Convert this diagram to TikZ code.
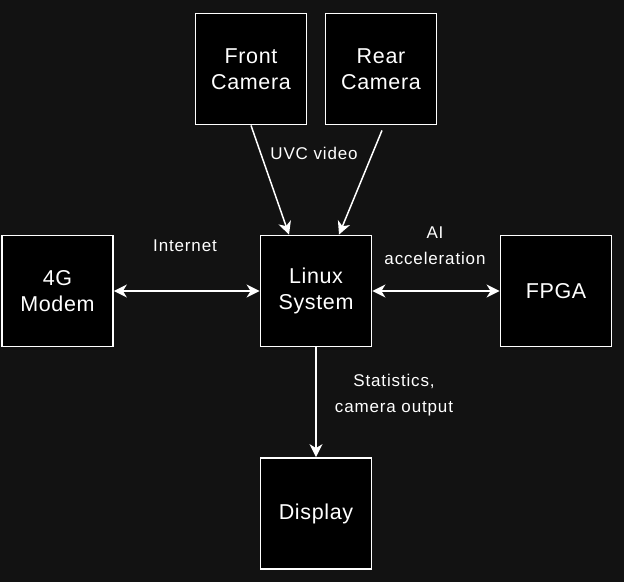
\documentclass[tikz,border=0pt]{standalone}
\usepackage{fontspec}
\setmainfont{Liberation Sans}
\newfontfamily\boxfont[LetterSpace=3]{Liberation Sans}
\newfontfamily\labfont[LetterSpace=5]{Liberation Sans}
\usetikzlibrary{arrows.meta,calc}
\definecolor{bgc}{HTML}{121212}
\tikzset{
  blk/.style={draw=white, line width=1.8pt, fill=black, minimum width=111pt, minimum height=111pt,
    text=white, font=\boxfont\fontsize{21.5}{26}\selectfont, align=center, inner sep=0pt},
  conn/.style={draw=white, line width=1.5pt, -{Stealth[length=13pt,width=13pt,inset=4pt]}},
  biconn/.style={draw=white, line width=1.5pt, {Stealth[length=13pt,width=13pt,inset=4pt]}-{Stealth[length=13pt,width=13pt,inset=4pt]}},
  lab/.style={text=white, font=\labfont\fontsize{17}{26}\selectfont, align=center, inner sep=0pt}
}
\begin{document}
\begin{tikzpicture}[x=1pt,y=-1pt]
\fill[bgc] (0,0) rectangle (624,582);
\useasboundingbox (0,0) rectangle (624,582);
\node[blk] (front) at (251,69) {Front\\Camera};
\node[blk] (rear) at (381,69) {Rear\\Camera};
\node[blk] (modem) at (57.5,291) {4G\\Modem};
\node[blk] (linux) at (316,291) {Linux\\System};
\node[blk] (fpga) at (556,291) {FPGA};
\node[blk] (display) at (316,513.5) {Display};
\coordinate (rs) at ($(rear.south)+(1,5)$);
\coordinate (lf) at ($(linux.north)+(-27,0)$);
\coordinate (lr) at ($(linux.north)+(23,0)$);
\draw[conn] (front.south) -- (lf);
\draw[conn] (rs) -- (lr);
\draw[biconn] (modem.east) -- (linux.west);
\draw[biconn] (linux.east) -- (fpga.west);
\draw[conn] (linux.south) -- (display.north);
\node[lab] (uvc) at (314,153) {UVC video};
\node[lab] (inet) at (185,246) {Internet};
\node[lab] (ai) at (435,246) {AI\\acceleration};
\node[lab] (stats) at (394,395) {Statistics,\\camera output};
\end{tikzpicture}
\end{document}
